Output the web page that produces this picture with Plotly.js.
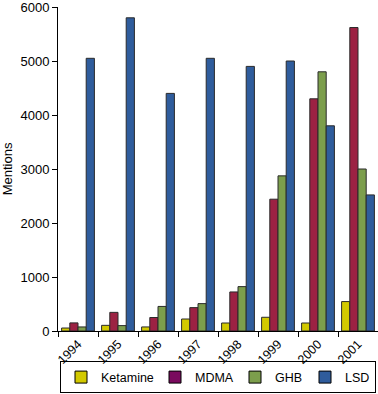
<!DOCTYPE html>
<html>
<head>
<meta charset="utf-8">
<script src="https://cdn.plot.ly/plotly-3.0.1.min.js"></script>
<style>html,body{margin:0;padding:0;background:#fff;}#chart{width:378px;height:394px;}</style>
</head>
<body>
<div id="chart"></div>
<script>
var years = ["1994","1995","1996","1997","1998","1999","2000","2001"];
var ketamine = [55, 105, 75, 222, 148, 254, 148, 545];
var mdma = [150, 345, 250, 433, 723, 2441, 4300, 5620];
var ghb = [75, 100, 455, 507, 822, 2873, 4800, 3000];
var lsd = [5050, 5800, 4400, 5050, 4900, 5000, 3800, 2520];
var yTicks = [0, 1000, 2000, 3000, 4000, 5000, 6000];
var seriesNames = ["Ketamine", "MDMA", "GHB", "LSD"];
var barColors = ["#d2c900", "#9c2243", "#7c9e4c", "#2f5c9c"];
var legendColors = ["#d2c900", "#7a0a5e", "#7c9e4c", "#2f5c9c"];
var seriesData = [ketamine, mdma, ghb, lsd];
var legendWidths = [49, 35, 25, 25];

var traces = [];
seriesData.forEach(function(vals, i) {
  traces.push({
    type: "bar", x: years, y: vals, name: seriesNames[i],
    showlegend: false,
    marker: {color: barColors[i], line: {color: "#2a2a2a", width: 1}},
    hoverinfo: "x+y"
  });
});
seriesNames.forEach(function(n, i) {
  traces.push({
    type: "bar", x: [null], y: [null], name: n, xaxis: "x2", yaxis: "y2",
    legendrank: i + 1, legendwidth: legendWidths[i],
    marker: {color: legendColors[i], line: {color: "#000", width: 1}}
  });
});

var layout = {
  width: 378, height: 394,
  margin: {l: 58, r: 0, t: 7, b: 63, autoexpand: false},
  paper_bgcolor: "#fff", plot_bgcolor: "#fff",
  font: {family: "Liberation Sans, Arial, sans-serif", size: 13, color: "#000"},
  barmode: "group", bargap: 0.18, bargroupgap: 0,
  showlegend: true,
  legend: {
    orientation: "h", x: 0.5, xanchor: "center", y: -0.094, yanchor: "top",
    bordercolor: "#000", borderwidth: 1, bgcolor: "rgba(255,255,255,0)",
    font: {size: 12.5}, itemwidth: 30, traceorder: "normal"
  },
  xaxis: {
    type: "category", showline: true, linecolor: "#000", linewidth: 1,
    ticks: "outside", tickson: "boundaries", ticklen: 5, tickcolor: "#000",
    tickangle: -45, ticklabelstandoff: 0, tickfont: {size: 12.5},
    showgrid: false, zeroline: false, fixedrange: true, automargin: false
  },
  yaxis: {
    range: [0, 6000], tickvals: yTicks, ticktext: yTicks.map(String),
    ticklabeloverflow: "allow",
    showline: true, linecolor: "#000", linewidth: 1,
    ticks: "outside", ticklen: 5, tickcolor: "#000",
    showgrid: false, zeroline: false, automargin: false,
    title: {text: "Mentions", font: {size: 13}, standoff: 8}, fixedrange: true
  },
  xaxis2: {visible: false, overlaying: "x", range: [0,1]},
  yaxis2: {visible: false, overlaying: "y", range: [0,1]}
};

Plotly.newPlot("chart", traces, layout, {displayModeBar: false, staticPlot: true});
</script>
</body>
</html>
